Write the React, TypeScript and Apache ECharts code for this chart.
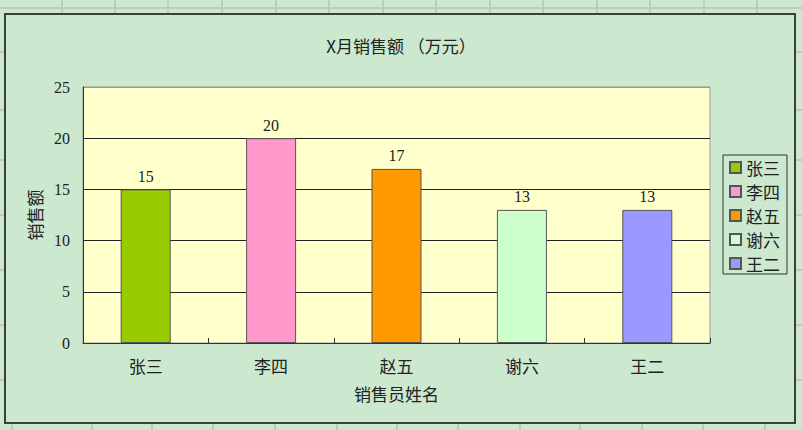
import React, { useEffect, useRef } from "react";
import * as echarts from "echarts";

const categories = ["张三", "李四", "赵五", "谢六", "王二"];
const values = [15, 20, 17, 13, 13];
const colors = ["#99cc00", "#ff99cc", "#ff9900", "#ccffcc", "#9999ff"];
const yTicks = [0, 5, 10, 15, 20, 25];

export default function App() {
  const ref = useRef<HTMLDivElement>(null);
  useEffect(() => {
    if (!ref.current) return;
    const chart = echarts.init(ref.current, null, { renderer: "svg" });
    const numFont = "Liberation Serif";
    const cjkFont = "Noto Sans CJK SC";
    const series = categories.map((name, i) => ({
      type: "bar",
      name,
      stack: "all",
      barWidth: 50,
      data: values.map((v, j) => (j === i ? v : "-")),
      itemStyle: { color: colors[i], borderColor: "#555", borderWidth: 1 },
      label: {
        show: true,
        position: "top",
        distance: 5,
        color: "#222",
        fontFamily: numFont,
        fontSize: 16,
      },
    }));
    const topXs = [62, 115, 168, 222, 276, 329, 383, 436, 490, 543, 597, 650, 704, 757];
    const botXs = [12, 92, 152, 213, 275, 337, 397, 458, 520, 580, 642, 703, 765];
    const sideYs = [52, 110, 160, 215, 270, 325, 380];
    const graphics: any[] = [];
    graphics.push({ type: "line", shape: { x1: 0, y1: 8, x2: 802, y2: 8 }, style: { stroke: "#c0c8c0", lineWidth: 2 }, silent: true });
    topXs.forEach((x) => graphics.push({ type: "line", shape: { x1: x, y1: 0, x2: x, y2: 14 }, style: { stroke: "#c0c8c0", lineWidth: 2 }, silent: true }));
    botXs.forEach((x) => graphics.push({ type: "line", shape: { x1: x, y1: 423, x2: x, y2: 430 }, style: { stroke: "#c0c8c0", lineWidth: 2 }, silent: true }));
    sideYs.forEach((y) => {
      graphics.push({ type: "line", shape: { x1: 795, y1: y, x2: 802, y2: y }, style: { stroke: "#c0c8c0", lineWidth: 2 }, silent: true });
      graphics.push({ type: "line", shape: { x1: 0, y1: y, x2: 5, y2: y }, style: { stroke: "#c0c8c0", lineWidth: 2 }, silent: true });
    });
    graphics.push({
      type: "rect",
      shape: { x: 5, y: 14, width: 790, height: 409 },
      style: { fill: "none", stroke: "#3a3f3a", lineWidth: 2 },
      silent: true,
      z: 10,
    });
    chart.setOption({
      animation: false,
      backgroundColor: "#cce8cf",
      title: {
        text: "X月销售额 （万元）",
        left: 396,
        textAlign: "center",
        top: 32,
        textStyle: { fontFamily: cjkFont, fontSize: 17, fontWeight: "normal", color: "#222" },
      },
      graphic: graphics,
      grid: {
        left: 83,
        right: 92,
        top: 87,
        bottom: 87,
        show: true,
        backgroundColor: "#ffffcc",
        borderColor: "#999",
        borderWidth: 1,
      },
      legend: {
        orient: "vertical",
        left: 723,
        top: 155,
        padding: [4, 7, 2, 6],
        itemGap: 7,
        itemWidth: 11,
        itemHeight: 11,
        icon: "rect",
        borderColor: "#333",
        borderWidth: 1,
        textStyle: { fontFamily: cjkFont, fontSize: 17, color: "#222" },
        data: categories,
      },
      xAxis: {
        type: "category",
        data: categories,
        name: "销售员姓名",
        nameLocation: "middle",
        nameGap: 42,
        nameTextStyle: { fontFamily: cjkFont, fontSize: 17, color: "#222" },
        axisLine: { show: true, lineStyle: { color: "#333", width: 1 } },
        axisTick: { show: true, inside: true, length: 5, lineStyle: { color: "#333" } },
        axisLabel: { fontFamily: cjkFont, fontSize: 17, color: "#222", margin: 14 },
      },
      yAxis: {
        type: "value",
        min: 0,
        max: 25,
        interval: 5,
        name: "销售额",
        nameLocation: "middle",
        nameGap: 40,
        nameTextStyle: { fontFamily: cjkFont, fontSize: 17, color: "#222" },
        axisLine: { show: true, lineStyle: { color: "#333", width: 1 } },
        axisTick: { show: false },
        axisLabel: {
          fontFamily: numFont,
          fontSize: 16,
          color: "#222",
          margin: 13,
          formatter: (v: number) => (yTicks.includes(v) ? String(v) : ""),
        },
        splitLine: {
          show: true,
          lineStyle: { color: ["#222", "#222", "#222", "#222", "#222", "#999"], width: 1 },
        },
      },
      series,
    });
    return () => chart.dispose();
  }, []);
  return (
    <div
      ref={ref}
      style={{ position: "fixed", left: 0, top: 0, width: 802, height: 430 }}
    />
  );
}
